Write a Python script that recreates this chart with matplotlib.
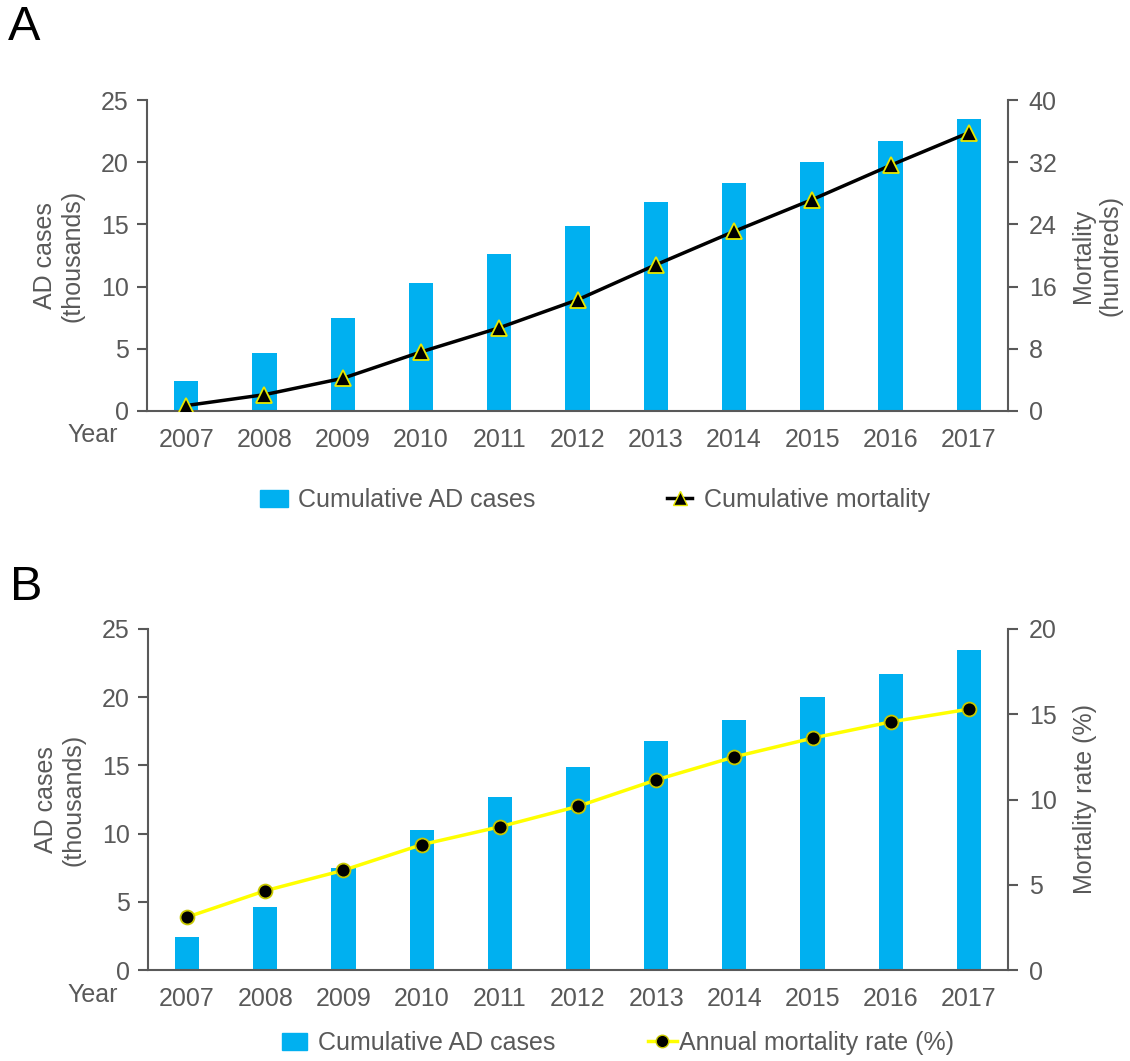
import matplotlib
matplotlib.use("Agg")
import matplotlib.pyplot as plt
import numpy as np
from matplotlib.patches import Patch
from matplotlib.lines import Line2D

plt.rcParams['font.family'] = ['Liberation Sans', 'DejaVu Sans']

years = ['2007', '2008', '2009', '2010', '2011', '2012', '2013', '2014', '2015', '2016', '2017']
cases = [2.45, 4.65, 7.45, 10.25, 12.65, 14.85, 16.8, 18.35, 20.05, 21.7, 23.45]      # thousands
mortality = [0.7, 2.1, 4.2, 7.6, 10.7, 14.3, 18.8, 23.1, 27.2, 31.6, 35.8]           # hundreds
rate = [3.1, 4.65, 5.85, 7.35, 8.4, 9.6, 11.15, 12.5, 13.6, 14.55, 15.3]            # %

W, H = 1130, 1061
gray = '#595959'
blue = '#00B0F0'
fs = 18

fig = plt.figure(figsize=(W / 100, H / 100), dpi=100)


def px_axes(l, r, t, b):
    return fig.add_axes([l / W, 1 - b / H, (r - l) / W, (b - t) / H])


def style(ax, ax2):
    for a in (ax, ax2):
        a.spines['top'].set_visible(False)
        for s in a.spines.values():
            s.set_color(gray)
            s.set_linewidth(1.5)
        a.tick_params(colors=gray, labelsize=fs, width=1.5, length=7)
    ax.spines['right'].set_visible(False)
    ax2.spines['left'].set_visible(False)
    ax2.spines['bottom'].set_visible(False)
    ax.tick_params(axis='y', pad=6)
    ax2.tick_params(axis='y', pad=8)
    ax.tick_params(axis='x', length=0, pad=12)
    ax.set_xlim(-0.5, len(years) - 0.5)


def leg(handle, label, xpx, ypx, hl, pad):
    fig.legend([handle], [label], loc='center left', bbox_to_anchor=(xpx / W, 1 - ypx / H),
               frameon=False, fontsize=fs, labelcolor=gray, borderpad=0, borderaxespad=0,
               handlelength=hl, handletextpad=pad)


x = np.arange(len(years))

# ---- panel A
axA = px_axes(147, 1008, 100, 411)
axA.bar(x, cases, width=0.31, color=blue, zorder=1)
axA.set_ylim(0, 25)
axA.set_yticks(range(0, 26, 5))
axA.set_xticks(x)
axA.set_xticklabels(years)
axA.set_ylabel('AD cases\n(thousands)', fontsize=fs, color=gray, labelpad=12)
axA2 = axA.twinx()
axA2.plot(x, mortality, '-', color='k', lw=2.5, marker='^', ms=12,
          mfc='k', mec='#E8E800', mew=1.3)
axA2.set_ylim(0, 40)
axA2.set_yticks(range(0, 41, 8))
axA2.set_ylabel('Mortality\n(hundreds)', fontsize=fs, color=gray, labelpad=10)
style(axA, axA2)
fig.text(118 / W, 1 - 435 / H, 'Year', fontsize=fs, color=gray, ha='right', va='center')
fig.text(8 / W, 1 - 28 / H, 'A', fontsize=35, color='k', ha='left', va='center')

leg(Patch(color=blue), 'Cumulative AD cases', 260, 500, 1.1, 0.4)
leg(Line2D([], [], color='k', lw=2.5, marker='^', ms=10, mfc='k', mec='#E8E800'),
    'Cumulative mortality', 667, 500, 1.0, 0.5)

# ---- panel B
axB = px_axes(148, 1008, 629, 970)
axB.bar(x, cases, width=0.31, color=blue, zorder=1)
axB.set_ylim(0, 25)
axB.set_yticks(range(0, 26, 5))
axB.set_xticks(x)
axB.set_xticklabels(years)
axB.set_ylabel('AD cases\n(thousands)', fontsize=fs, color=gray, labelpad=12)
axB2 = axB.twinx()
axB2.plot(x, rate, '-', color='#FFFF00', lw=2.5, marker='o', ms=10,
          mfc='k', mec='#C8C800', mew=1.3)
axB2.set_ylim(0, 20)
axB2.set_yticks(range(0, 21, 5))
axB2.set_ylabel('Mortality rate (%)', fontsize=fs, color=gray, labelpad=12)
style(axB, axB2)
fig.text(118 / W, 1 - 995 / H, 'Year', fontsize=fs, color=gray, ha='right', va='center')
fig.text(10 / W, 1 - 588 / H, 'B', fontsize=35, color='k', ha='left', va='center')

leg(Patch(color=blue), 'Cumulative AD cases', 282, 1043, 1.0, 0.44)
leg(Line2D([], [], color='#FFFF00', lw=2.5, marker='o', ms=9, mfc='k', mec='#C8C800'),
    'Annual mortality rate (%)', 648, 1043, 1.15, 0.08)

fig.savefig('out.png', dpi=100)
